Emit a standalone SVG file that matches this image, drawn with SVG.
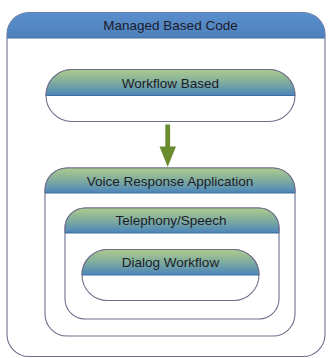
<svg xmlns="http://www.w3.org/2000/svg" width="329" height="358" viewBox="0 0 329 358">
<defs>
<linearGradient id="g" x1="0" y1="0" x2="0" y2="1">
<stop offset="0" stop-color="#aecb8c"/>
<stop offset="0.5" stop-color="#7fac9e"/>
<stop offset="1" stop-color="#4a84bb"/>
</linearGradient>
<linearGradient id="b" x1="0" y1="0" x2="0" y2="1">
<stop offset="0" stop-color="#5a8fcb"/>
<stop offset="1" stop-color="#4e81bd"/>
</linearGradient>
</defs>
<style>
.box{fill:#ffffff;stroke:#6e6e8c;stroke-width:1.1}
.hdr{fill:url(#g)}
.div{stroke:#3f6e9e;stroke-width:1.2}
.t{font-family:"Liberation Sans",Arial,sans-serif;font-size:13.5px;fill:#1c1c2a;text-anchor:middle}
</style>
<rect width="329" height="358" fill="#ffffff"/>
<g id="managed-based-code">
<rect class="box" x="7" y="12.5" width="318" height="344" rx="22" ry="22"/>
<path d="M7,38 V34.5 A22,22 0 0 1 29,12.5 H303 A22,22 0 0 1 325,34.5 V38 Z" fill="url(#b)"/>
<line class="div" x1="7" y1="38" x2="325" y2="38"/>
<text class="t" x="170.5" y="29.5">Managed Based Code</text>
</g>
<g id="workflow-based">
<rect class="box" x="46" y="69.5" width="249" height="52" rx="26" ry="26"/>
<path class="hdr" d="M46,95.5 A26,26 0 0 1 72,69.5 H269 A26,26 0 0 1 295,95.5 Z"/>
<path d="M72,69.5 H269 A26,26 0 0 1 295,95.5 M46,95.5 A26,26 0 0 1 72,69.5" fill="none" stroke="#6e6e8c" stroke-width="1.1"/>
<line class="div" x1="46" y1="95.5" x2="295" y2="95.5"/>
<text class="t" x="170.5" y="88">Workflow Based</text>
</g>
<g id="voice-response-application">
<rect class="box" x="45" y="168" width="250" height="168" rx="22" ry="22"/>
<path class="hdr" d="M45,193 V190 A22,22 0 0 1 67,168 H273 A22,22 0 0 1 295,190 V193 Z"/>
<path d="M45,193 V190 A22,22 0 0 1 67,168 H273 A22,22 0 0 1 295,190 V193" fill="none" stroke="#6e6e8c" stroke-width="1.1"/>
<line class="div" x1="45" y1="193" x2="295" y2="193"/>
<text class="t" x="170" y="185.5">Voice Response Application</text>
</g>
<g id="telephony-speech">
<rect class="box" x="65" y="208" width="214" height="111" rx="20" ry="20"/>
<path class="hdr" d="M65,233 V228 A20,20 0 0 1 85,208 H259 A20,20 0 0 1 279,228 V233 Z"/>
<path d="M65,233 V228 A20,20 0 0 1 85,208 H259 A20,20 0 0 1 279,228 V233" fill="none" stroke="#6e6e8c" stroke-width="1.1"/>
<line class="div" x1="65" y1="233" x2="279" y2="233"/>
<text class="t" x="171" y="225">Telephony/Speech</text>
</g>
<g id="dialog-workflow">
<rect class="box" x="82" y="249.5" width="177" height="51" rx="25.5" ry="25.5"/>
<path class="hdr" d="M82,275 A25.5,25.5 0 0 1 107.5,249.5 H233.5 A25.5,25.5 0 0 1 259,275 Z"/>
<path d="M82,275 A25.5,25.5 0 0 1 107.5,249.5 H233.5 A25.5,25.5 0 0 1 259,275" fill="none" stroke="#6e6e8c" stroke-width="1.1"/>
<line class="div" x1="82" y1="275" x2="259" y2="275"/>
<text class="t" x="170.5" y="266.5">Dialog Workflow</text>
</g>
<g id="connectors">
<rect x="165.3" y="124.5" width="4.8" height="23" fill="#6b8b2f"/>
<polygon points="159.5,146.5 176,146.5 167.7,167" fill="#6b8b2f"/>
</g>
</svg>
